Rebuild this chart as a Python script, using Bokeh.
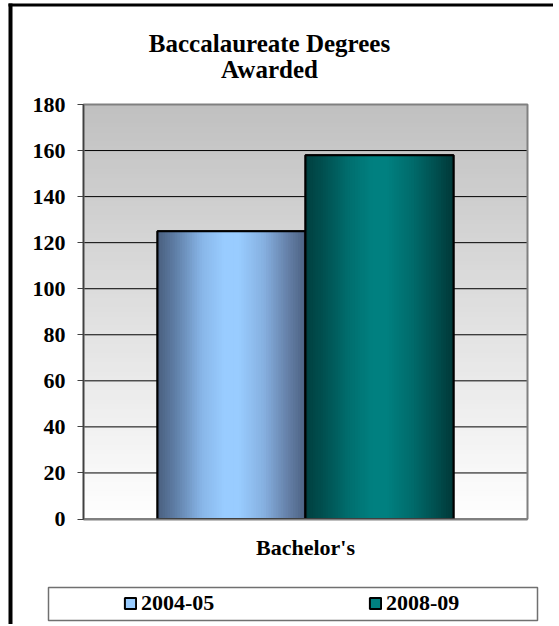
from bokeh.plotting import figure
from bokeh.models import (Range1d, FixedTicker, ColumnDataSource, Label,
                          BoxAnnotation, Legend, LegendItem)
from bokeh.embed import file_html
from bokeh.resources import INLINE

# ---- data ----
title_lines = ["Baccalaureate Degrees", "Awarded"]
categories = ["Bachelor's"]
series_names = ["2004-05", "2008-09"]
values_2004_05 = [125]
values_2008_09 = [158]
y_ticks = [0, 20, 40, 60, 80, 100, 120, 140, 160, 180]

# ---- layout (pixels) ----
FONT = "Liberation Serif"
W, H = 553, 624
PLOT_L, PLOT_R, PLOT_T, PLOT_B = 83, 527, 104, 518.5   # plot-area box on the page
Y_MAX = y_ticks[-1]
n_cat = len(categories)
px_x = (PLOT_R - PLOT_L) / n_cat
px_y = (PLOT_B - PLOT_T) / Y_MAX
x_range = Range1d(-PLOT_L / px_x, (W - PLOT_L) / px_x)
y_range = Range1d(-(H - PLOT_B) / px_y, PLOT_B / px_y)
bar_w = 1.0 / 3.0

series_values = [values_2004_05, values_2008_09]
series_stops = [
    [(0.0, "#4a5f7e"), (0.12, "#5f7ea6"), (0.3, "#88b6e8"), (0.45, "#99ccff"),
     (0.55, "#99ccff"), (0.72, "#86b0e0"), (0.88, "#6580a8"), (1.0, "#4c6282")],
    [(0.0, "#003f3f"), (0.12, "#005050"), (0.3, "#006f6f"), (0.45, "#008080"),
     (0.55, "#008080"), (0.72, "#006c6c"), (0.88, "#004f4f"), (1.0, "#003838")],
]
legend_fill = ["#99ccff", "#008080"]


def hex2rgb(h):
    h = h.lstrip("#")
    return tuple(int(h[i:i + 2], 16) for i in (0, 2, 4))


def interp(stops, t):
    for (t0, c0), (t1, c1) in zip(stops[:-1], stops[1:]):
        if t0 <= t <= t1:
            f = 0 if t1 == t0 else (t - t0) / (t1 - t0)
            a, b = hex2rgb(c0), hex2rgb(c1)
            return "#%02x%02x%02x" % tuple(int(round(a[i] + (b[i] - a[i]) * f)) for i in range(3))
    return stops[-1][1]


p = figure(width=W, height=H, x_range=x_range, y_range=y_range,
           output_backend="svg", toolbar_location=None, min_border=0,
           min_border_left=0, min_border_right=0, min_border_top=0, min_border_bottom=0)
p.title.visible = False
p.background_fill_color = "white"
p.border_fill_color = "white"
p.outline_line_color = None
p.xgrid.visible = False
p.ygrid.visible = False

# background gradient of the plot area (#c0c0c0 at top -> white at bottom)
NB = 90
bg = dict(left=[], right=[], bottom=[], top=[], color=[])
for k in range(NB):
    g = int(round(255 - (255 - 192) * (k + 0.5) / NB))
    bg["left"].append(0)
    bg["right"].append(n_cat)
    bg["bottom"].append(Y_MAX * k / NB)
    bg["top"].append(Y_MAX)
    bg["color"].append("#%02x%02x%02x" % (g, g, g))
p.quad(left="left", right="right", bottom="bottom", top="top", fill_color="color",
       line_color=None, source=ColumnDataSource(bg))

# horizontal grid lines across the plot area
grid_y = y_ticks[1:-1]
p.segment(x0=[0] * len(grid_y), x1=[n_cat] * len(grid_y), y0=grid_y, y1=grid_y,
          line_color="black", line_width=1)

# plot-area border (gray)
p.quad(left=[0], right=[n_cat], bottom=[0], top=[Y_MAX], fill_color=None,
       line_color="#808080", line_width=2)

# bars (horizontal shading drawn as thin slices of each bar)
N = 60
legend_renderers = []
for ci in range(n_cat):
    center = ci + 0.5
    for j, (vals, stops) in enumerate(zip(series_values, series_stops)):
        start = center - bar_w + j * bar_w
        end = start + bar_w
        base = p.quad(left=[start], right=[end], bottom=[0], top=[vals[ci]],
                      fill_color=legend_fill[j], line_color="black", line_width=2)
        if ci == 0:
            legend_renderers.append(base)
        d = dict(left=[], right=[], top=[], color=[])
        for k in range(N):
            d["left"].append(start + bar_w * k / N)
            d["right"].append(end)
            d["top"].append(vals[ci])
            d["color"].append(interp(stops, (k + 0.5) / N))
        p.quad(left="left", right="right", bottom=0, top="top", fill_color="color",
               line_color=None, source=ColumnDataSource(d))
        p.quad(left=[start], right=[end], bottom=[0], top=[vals[ci]],
               fill_color=None, line_color="black", line_width=2)

# axes, pinned to the plot-area edges
p.yaxis.fixed_location = 0
p.yaxis.bounds = (0, Y_MAX)
p.yaxis.ticker = FixedTicker(ticks=y_ticks)
p.yaxis.axis_line_color = "#404040"
p.yaxis.axis_line_width = 1.5
p.yaxis.major_tick_line_color = "#404040"
p.yaxis.major_tick_out = 6
p.yaxis.major_tick_in = 0
p.yaxis.minor_tick_line_color = None
p.yaxis.major_label_standoff = 12
p.yaxis.major_label_text_font = FONT
p.yaxis.major_label_text_font_size = "22px"
p.yaxis.major_label_text_font_style = "bold"
p.yaxis.major_label_text_color = "black"

p.xaxis.fixed_location = 0
p.xaxis.bounds = (0, n_cat)
p.xaxis.ticker = FixedTicker(ticks=[i + 0.5 for i in range(n_cat)])
p.xaxis.major_label_overrides = {i + 0.5: c for i, c in enumerate(categories)}
p.xaxis.axis_line_color = "#808080"
p.xaxis.axis_line_width = 2
p.xaxis.major_tick_line_color = None
p.xaxis.minor_tick_line_color = None
p.xaxis.major_tick_out = 0
p.xaxis.major_label_standoff = 16
p.xaxis.major_label_text_font = FONT
p.xaxis.major_label_text_font_size = "22px"
p.xaxis.major_label_text_font_style = "bold"
p.xaxis.major_label_text_color = "black"

# title (two centred lines)
for txt, base_y in zip(title_lines, [43, 69]):
    p.add_layout(Label(x=269, y=H - base_y, x_units="screen", y_units="screen", text=txt,
                       text_align="center", text_baseline="alphabetic",
                       text_font=FONT, text_font_size="25px", text_font_style="bold",
                       text_color="black"))


def screen_box(l, r, t, b, **kw):
    return BoxAnnotation(left=l, right=r, top=H - t, bottom=H - b,
                         left_units="screen", right_units="screen",
                         top_units="screen", bottom_units="screen", **kw)


# outer black frame (left and top edges)
p.add_layout(screen_box(8, 12, 3, H, fill_color="black", fill_alpha=1, line_color=None))
p.add_layout(screen_box(8, W, 3, 6, fill_color="black", fill_alpha=1, line_color=None))

# legend box
p.add_layout(screen_box(48, 537, 587, 620, fill_color="white", fill_alpha=1,
                        line_color="#707070", line_width=1.5, line_alpha=1))

legend = Legend(items=[LegendItem(label=s, renderers=[r]) for s, r in zip(series_names, legend_renderers)],
                location=(119, H - 620), orientation="horizontal",
                label_text_font=FONT, label_text_font_size="22px", label_text_font_style="bold",
                label_text_color="black",
                glyph_width=14, glyph_height=14, label_standoff=4, label_width=147,
                label_height=25, spacing=80, padding=4, margin=0,
                border_line_alpha=0, background_fill_alpha=0)
p.add_layout(legend, "center")

open("out.html", "w").write(file_html(p, INLINE))
